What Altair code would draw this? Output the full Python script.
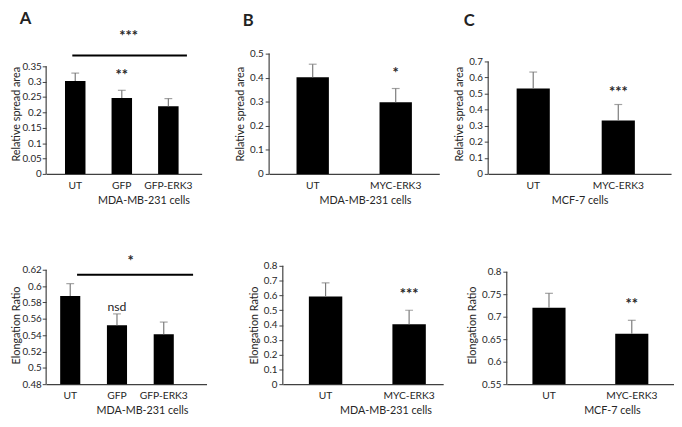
import altair as alt
import pandas as pd

FONT = "Lato"
TXT = "#262626"
AXC = "#404040"
ERRC = "#7a7a7a"

# ---------------- data ----------------
cats_a = ["UT", "GFP", "GFP-ERK3"]
cats_2 = ["UT", "MYC-ERK3"]

spread_a = [0.302, 0.247, 0.220]
spread_a_err = [0.026, 0.025, 0.025]
spread_a_marks = ["", "**", ""]
spread_a_mark_y = [None, 0.306, None]

spread_b = [0.402, 0.298]
spread_b_err = [0.054, 0.057]
spread_b_marks = ["", "*"]
spread_b_mark_y = [None, 0.398]

spread_c = [0.532, 0.333]
spread_c_err = [0.102, 0.099]
spread_c_marks = ["", "***"]
spread_c_mark_y = [None, 0.478]

elong_a = [0.588, 0.552, 0.541]
elong_a_err = [0.015, 0.014, 0.015]
elong_a_marks = ["", "nsd", ""]
elong_a_mark_y = [None, 0.574, None]

elong_b = [0.593, 0.405]
elong_b_err = [0.092, 0.095]
elong_b_marks = ["", "***"]
elong_b_mark_y = [None, 0.578]

elong_c = [0.720, 0.662]
elong_c_err = [0.032, 0.030]
elong_c_marks = ["", "**"]
elong_c_mark_y = [None, 0.718]

ticks_spread_a = [0, 0.05, 0.1, 0.15, 0.2, 0.25, 0.3, 0.35]
ticks_spread_b = [0, 0.1, 0.2, 0.3, 0.4, 0.5]
ticks_spread_c = [0, 0.1, 0.2, 0.3, 0.4, 0.5, 0.6, 0.7]
ticks_elong_a = [0.48, 0.5, 0.52, 0.54, 0.56, 0.58, 0.6, 0.62]
ticks_elong_b = [0, 0.1, 0.2, 0.3, 0.4, 0.5, 0.6, 0.7, 0.8]
ticks_elong_c = [0.55, 0.6, 0.65, 0.7, 0.75, 0.8]

# significance bars (from, to, line value, label, label value)
sig_spread_a = {"from": "UT", "to": "GFP-ERK3", "mid": "GFP", "line_y": 0.385, "label": "***", "label_y": 0.434}
sig_elong_a = {"from": "UT", "to": "GFP-ERK3", "mid": "GFP", "line_y": 0.614, "label": "*", "label_y": 0.624}

cells_mda = "MDA-MB-231 cells"
cells_mcf = "MCF-7 cells"
yt_spread = "Relative spread area"
yt_elong = "Elongation Ratio"


def panel(cats, vals, errs, marks, mark_y, ticks, ytitle, xtitle, w, h, gap,
          pi, po, align, ypad, lpad, xt_shift, title=None, sig=None, sig_off=(0, 0, 0)):
    lo, hi = ticks[0], ticks[-1]
    # gap: empty pixels between top of axis and top of the plot area
    top_dom = lo + (hi - lo) * h / (h - gap)
    df = pd.DataFrame({
        "cat": cats,
        "val": vals,
        "top": [v + e for v, e in zip(vals, errs)],
        "base": [lo] * len(cats),
        "mark": marks,
        "my": mark_y,
    })
    xscale = alt.Scale(domain=cats, paddingInner=pi, paddingOuter=po, align=align)
    xaxis = alt.Axis(labelAngle=0, ticks=False, labelPadding=7, titlePadding=4,
                     labelFontSize=10.5, titleX=w / 2 + xt_shift)

    def xenc(field):
        return alt.X(field, type="nominal", title=xtitle, scale=xscale, axis=xaxis)

    def yenc(field):
        return alt.Y(field, type="quantitative", title=ytitle,
                     scale=alt.Scale(domain=[lo, top_dom], nice=False, zero=False),
                     axis=alt.Axis(values=ticks, format="~g", grid=False, tickSize=4, domain=False,
                                   labelPadding=lpad, titlePadding=ypad))

    base = alt.Chart(df)
    bars = base.mark_bar(color="black").encode(x=xenc("cat"), y=yenc("val"), y2="base:Q")
    err = base.mark_rule(color=ERRC, strokeWidth=1.2).encode(x=xenc("cat"), y=yenc("val"), y2="top:Q")
    cap = base.mark_tick(color=ERRC, size=8, thickness=1.2).encode(x=xenc("cat"), y=yenc("top"))
    stars = base.transform_filter("indexof(datum.mark, '*') >= 0").mark_text(
        font=FONT, color=TXT, fontWeight="bold", fontSize=15, baseline="middle", dy=-5
    ).encode(x=xenc("cat"), y=yenc("my"), text="mark:N")
    words = base.transform_filter("datum.mark != '' && indexof(datum.mark, '*') < 0").mark_text(
        font=FONT, color=TXT, fontSize=12.5, baseline="middle"
    ).encode(x=xenc("cat"), y=yenc("my"), text="mark:N")
    yline = alt.Chart(pd.DataFrame({"lo": [lo], "hi": [hi]})).mark_rule(
        color=AXC, strokeWidth=1.2).encode(x=alt.value(0), y=yenc("lo"), y2="hi:Q")
    layers = [bars, err, cap, stars, words, yline]
    if sig is not None:
        sdf = pd.DataFrame({
            "start": [sig["from"]], "end": [sig["to"]], "mid": [sig["mid"]],
            "ly": [sig["line_y"]], "label": [sig["label"]], "ty": [sig["label_y"]],
        })
        sbase = alt.Chart(sdf)
        line = sbase.mark_rule(color="black", strokeWidth=2, xOffset=sig_off[0], x2Offset=sig_off[1]).encode(
            x=xenc("start"), x2="end:N", y=yenc("ly"))
        star = sbase.mark_text(font=FONT, color=TXT, fontWeight="bold", fontSize=15,
                               baseline="middle", dx=sig_off[2], dy=-5).encode(
            x=xenc("mid"), y=yenc("ty"), text="label:N")
        layers += [line, star]
    ch = alt.layer(*layers).properties(width=w, height=h)
    if title is not None:
        ch = ch.properties(title=title)
    return ch


def letter(t, off, dx):
    return alt.TitleParams(text=t, anchor="start", frame="group", fontSize=17, fontWeight="bold",
                           font=FONT, color="#222222", offset=off, dx=dx)


# top row: plot area 49..172 for all, axes end at differing heights
pA = panel(cats_a, spread_a, spread_a_err, spread_a_marks, spread_a_mark_y, ticks_spread_a,
           yt_spread, cells_mda, 159, 123, 13, 0.56, 0.45, 0.45, 0, 1, 20, letter("A", 1, -27),
           sig=sig_spread_a, sig_off=(-3, 19, 7))
pB = panel(cats_2, spread_b, spread_b_err, spread_b_marks, spread_b_mark_y, ticks_spread_b,
           yt_spread, cells_mda, 174, 123, 0, 0.61, 0.33, 0.5, 4, 2, 11, letter("B", 19, -27))
pC = panel(cats_2, spread_c, spread_c_err, spread_c_marks, spread_c_mark_y, ticks_spread_c,
           yt_spread, cells_mcf, 187, 123, 8, 0.61, 0.38, 0.44, 4, 2, 0, letter("C", 24, -25))

# bottom row: plot area 263..384
qA = panel(cats_a, elong_a, elong_a_err, elong_a_marks, elong_a_mark_y, ticks_elong_a,
           yt_elong, cells_mda, 164, 121, 4, 0.57, 0.5, 0.3, 0, 1, 16,
           sig=sig_elong_a, sig_off=(7, 30, 14))
qB = panel(cats_2, elong_b, elong_b_err, elong_b_marks, elong_b_mark_y, ticks_elong_b,
           yt_elong, cells_mda, 164, 121, 0, 0.6, 0.26, 0.6, 4, 2, 23)
qC = panel(cats_2, elong_c, elong_c_err, elong_c_marks, elong_c_mark_y, ticks_elong_c,
           yt_elong, cells_mcf, 171, 121, 6, 0.6, 0.31, 0.5, 4, 2, 22)

top = alt.hconcat(alt.hconcat(pA, pB, spacing=34), pC, spacing=15)
bottom = alt.hconcat(alt.hconcat(qA, qB, spacing=43), qC, spacing=24)

chart = alt.vconcat(top, bottom, spacing=49).properties(
    padding={"left": 3, "top": -3, "right": 0, "bottom": 0}
).configure_axis(
    labelFont=FONT, titleFont=FONT, labelFontSize=10, titleFontSize=11,
    labelColor=TXT, titleColor=TXT, titleFontWeight="normal",
    domainColor=AXC, tickColor=AXC, domainWidth=1.2,
).configure_view(stroke=None)

chart.save("out.html", embed_options={"renderer": "svg", "actions": False})
